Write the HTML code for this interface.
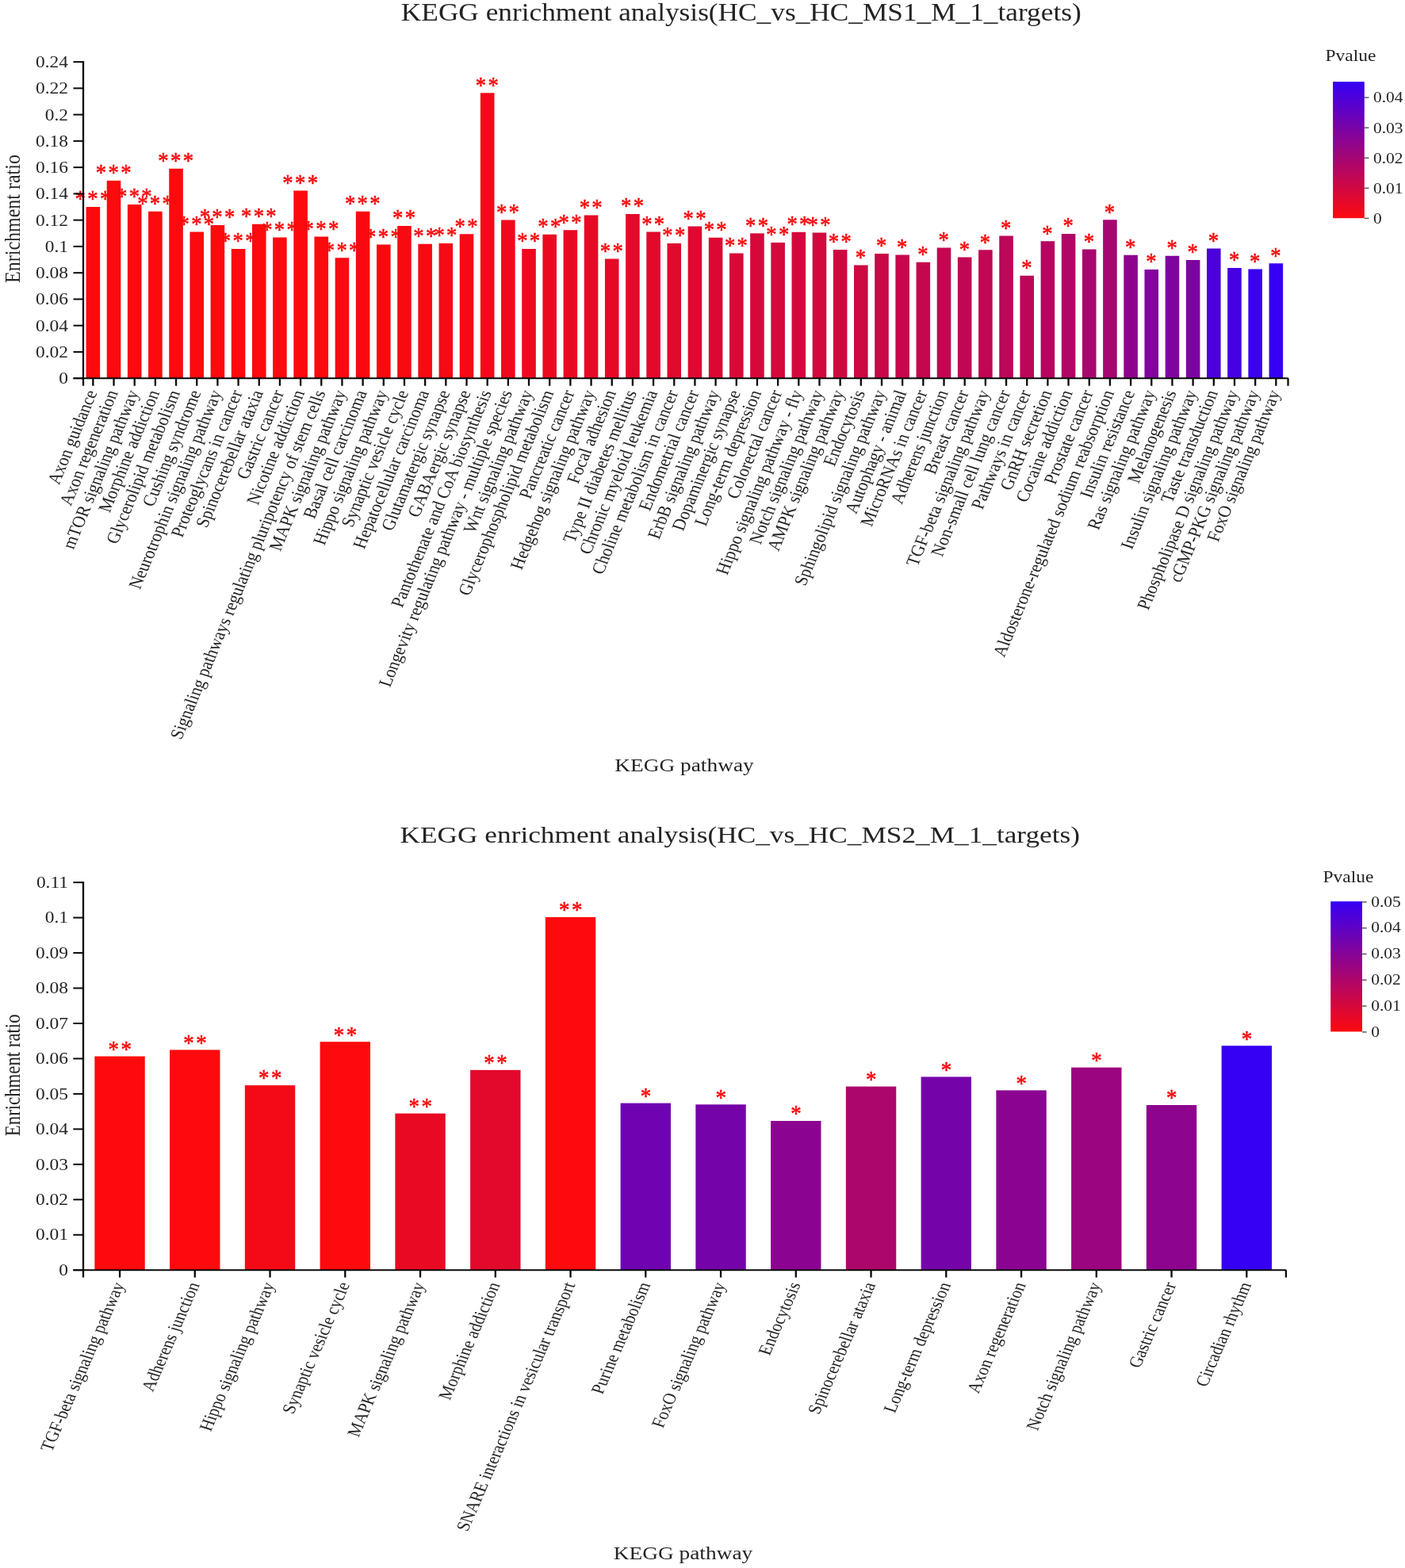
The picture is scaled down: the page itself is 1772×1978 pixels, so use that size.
<!DOCTYPE html>
<html lang="en">
<head>
<meta charset="utf-8">
<title>KEGG enrichment analysis</title>
<style>
html, body { margin: 0; padding: 0; background: #ffffff; }
body { width: 1772px; height: 1978px; overflow: hidden; }
svg { display: block; font-family: "Liberation Serif", "DejaVu Serif", serif; }
svg text { white-space: pre; }
</style>
</head>
<body>
<svg role="img" aria-label="KEGG enrichment analysis bar charts" width="1772" height="1978" viewBox="0 0 1772 1978" shape-rendering="geometricPrecision">
<rect x="0" y="0" width="1772" height="1978" fill="#ffffff"/>
<g id="chart-ms1">
<text transform="translate(934.75 25.90) scale(1.1437 1.0000)" font-size="30.86" text-anchor="middle" fill="#242424">KEGG enrichment analysis(HC_vs_HC_MS1_M_1_targets)</text>
<rect x="108.55" y="261.00" width="17.60" height="216.20" fill="#fc0a0e"/>
<rect x="134.72" y="227.85" width="17.60" height="249.35" fill="#fc0a0e"/>
<rect x="160.90" y="258.00" width="17.60" height="219.20" fill="#fc0a0e"/>
<rect x="187.07" y="266.75" width="17.60" height="210.45" fill="#fc0a0e"/>
<rect x="213.25" y="212.75" width="17.60" height="264.45" fill="#fc0a0e"/>
<rect x="239.42" y="292.50" width="17.60" height="184.70" fill="#fc0a0e"/>
<rect x="265.60" y="284.00" width="17.60" height="193.20" fill="#fc0a0e"/>
<rect x="291.77" y="314.00" width="17.60" height="163.20" fill="#fc0a0e"/>
<rect x="317.95" y="282.75" width="17.60" height="194.45" fill="#fc0a0e"/>
<rect x="344.12" y="299.50" width="17.60" height="177.70" fill="#fc0a0e"/>
<rect x="370.30" y="240.50" width="17.60" height="236.70" fill="#fc0a0e"/>
<rect x="396.47" y="298.50" width="17.60" height="178.70" fill="#fc0a0e"/>
<rect x="422.65" y="325.25" width="17.60" height="151.95" fill="#fa0a10"/>
<rect x="448.82" y="266.75" width="17.60" height="210.45" fill="#fa0a10"/>
<rect x="475.00" y="308.50" width="17.60" height="168.70" fill="#fa0a10"/>
<rect x="501.18" y="285.00" width="17.60" height="192.20" fill="#f80a13"/>
<rect x="527.35" y="307.75" width="17.60" height="169.45" fill="#f80a13"/>
<rect x="553.53" y="307.00" width="17.60" height="170.20" fill="#f60a15"/>
<rect x="579.70" y="295.25" width="17.60" height="181.95" fill="#f60a15"/>
<rect x="605.88" y="117.25" width="17.60" height="359.95" fill="#f20a1a"/>
<rect x="632.05" y="277.50" width="17.60" height="199.70" fill="#f0091c"/>
<rect x="658.23" y="314.00" width="17.60" height="163.20" fill="#ee091e"/>
<rect x="684.40" y="295.75" width="17.60" height="181.45" fill="#ec0920"/>
<rect x="710.58" y="290.25" width="17.60" height="186.95" fill="#ea0923"/>
<rect x="736.75" y="271.50" width="17.60" height="205.70" fill="#e80925"/>
<rect x="762.93" y="326.50" width="17.60" height="150.70" fill="#e60927"/>
<rect x="789.10" y="270.00" width="17.60" height="207.20" fill="#e4092a"/>
<rect x="815.28" y="292.50" width="17.60" height="184.70" fill="#e2092c"/>
<rect x="841.45" y="307.00" width="17.60" height="170.20" fill="#e0092e"/>
<rect x="867.63" y="285.50" width="17.60" height="191.70" fill="#de0830"/>
<rect x="893.80" y="299.75" width="17.60" height="177.45" fill="#dc0833"/>
<rect x="919.98" y="319.50" width="17.60" height="157.70" fill="#da0835"/>
<rect x="946.15" y="294.35" width="17.60" height="182.85" fill="#d6083a"/>
<rect x="972.33" y="306.00" width="17.60" height="171.20" fill="#d4083c"/>
<rect x="998.50" y="292.75" width="17.60" height="184.45" fill="#d4083c"/>
<rect x="1024.67" y="293.50" width="17.60" height="183.70" fill="#d2083e"/>
<rect x="1050.85" y="315.00" width="17.60" height="162.20" fill="#d00841"/>
<rect x="1077.03" y="334.50" width="17.60" height="142.70" fill="#ce0843"/>
<rect x="1103.20" y="320.00" width="17.60" height="157.20" fill="#ca0848"/>
<rect x="1129.38" y="321.50" width="17.60" height="155.70" fill="#c9074a"/>
<rect x="1155.55" y="330.75" width="17.60" height="146.45" fill="#c5074e"/>
<rect x="1181.72" y="312.50" width="17.60" height="164.70" fill="#c30751"/>
<rect x="1207.90" y="324.50" width="17.60" height="152.70" fill="#c10753"/>
<rect x="1234.08" y="315.25" width="17.60" height="161.95" fill="#bf0755"/>
<rect x="1260.25" y="297.50" width="17.60" height="179.70" fill="#bd0758"/>
<rect x="1286.42" y="347.75" width="17.60" height="129.45" fill="#bb075a"/>
<rect x="1312.60" y="304.25" width="17.60" height="172.95" fill="#b50661"/>
<rect x="1338.78" y="295.00" width="17.60" height="182.20" fill="#b10665"/>
<rect x="1364.95" y="314.50" width="17.60" height="162.70" fill="#a9066f"/>
<rect x="1391.12" y="277.25" width="17.60" height="199.95" fill="#a70671"/>
<rect x="1417.30" y="321.75" width="17.60" height="155.45" fill="#8f048c"/>
<rect x="1443.47" y="340.00" width="17.60" height="137.20" fill="#81049d"/>
<rect x="1469.65" y="322.75" width="17.60" height="154.45" fill="#7f049f"/>
<rect x="1495.83" y="328.00" width="17.60" height="149.20" fill="#7d04a1"/>
<rect x="1522.00" y="313.50" width="17.60" height="163.70" fill="#4a01dd"/>
<rect x="1548.17" y="338.00" width="17.60" height="139.20" fill="#4601e2"/>
<rect x="1574.35" y="339.50" width="17.60" height="137.70" fill="#3a00ef"/>
<rect x="1600.53" y="332.25" width="17.60" height="144.95" fill="#3600f4"/>
<text transform="translate(118.12 260.40) scale(0.9350 1.0000)" font-size="28.50" text-anchor="middle" fill="#f80b0e" stroke="#f80b0e" stroke-width="0.6" letter-spacing="2.51">***</text>
<text transform="translate(144.30 227.25) scale(0.9350 1.0000)" font-size="28.50" text-anchor="middle" fill="#f80b0e" stroke="#f80b0e" stroke-width="0.6" letter-spacing="2.51">***</text>
<text transform="translate(170.47 257.40) scale(0.9350 1.0000)" font-size="28.50" text-anchor="middle" fill="#f80b0e" stroke="#f80b0e" stroke-width="0.6" letter-spacing="2.51">***</text>
<text transform="translate(196.65 266.15) scale(0.9350 1.0000)" font-size="28.50" text-anchor="middle" fill="#f80b0e" stroke="#f80b0e" stroke-width="0.6" letter-spacing="2.51">***</text>
<text transform="translate(222.82 212.15) scale(0.9350 1.0000)" font-size="28.50" text-anchor="middle" fill="#f80b0e" stroke="#f80b0e" stroke-width="0.6" letter-spacing="2.51">***</text>
<text transform="translate(249.00 291.90) scale(0.9350 1.0000)" font-size="28.50" text-anchor="middle" fill="#f80b0e" stroke="#f80b0e" stroke-width="0.6" letter-spacing="2.51">***</text>
<text transform="translate(275.17 283.40) scale(0.9350 1.0000)" font-size="28.50" text-anchor="middle" fill="#f80b0e" stroke="#f80b0e" stroke-width="0.6" letter-spacing="2.51">***</text>
<text transform="translate(301.35 313.40) scale(0.9350 1.0000)" font-size="28.50" text-anchor="middle" fill="#f80b0e" stroke="#f80b0e" stroke-width="0.6" letter-spacing="2.51">***</text>
<text transform="translate(327.52 282.15) scale(0.9350 1.0000)" font-size="28.50" text-anchor="middle" fill="#f80b0e" stroke="#f80b0e" stroke-width="0.6" letter-spacing="2.51">***</text>
<text transform="translate(353.70 298.90) scale(0.9350 1.0000)" font-size="28.50" text-anchor="middle" fill="#f80b0e" stroke="#f80b0e" stroke-width="0.6" letter-spacing="2.51">***</text>
<text transform="translate(379.87 239.90) scale(0.9350 1.0000)" font-size="28.50" text-anchor="middle" fill="#f80b0e" stroke="#f80b0e" stroke-width="0.6" letter-spacing="2.51">***</text>
<text transform="translate(406.05 297.90) scale(0.9350 1.0000)" font-size="28.50" text-anchor="middle" fill="#f80b0e" stroke="#f80b0e" stroke-width="0.6" letter-spacing="2.51">***</text>
<text transform="translate(432.22 324.65) scale(0.9350 1.0000)" font-size="28.50" text-anchor="middle" fill="#f80b0e" stroke="#f80b0e" stroke-width="0.6" letter-spacing="2.51">***</text>
<text transform="translate(458.40 266.15) scale(0.9350 1.0000)" font-size="28.50" text-anchor="middle" fill="#f80b0e" stroke="#f80b0e" stroke-width="0.6" letter-spacing="2.51">***</text>
<text transform="translate(484.57 307.90) scale(0.9350 1.0000)" font-size="28.50" text-anchor="middle" fill="#f80b0e" stroke="#f80b0e" stroke-width="0.6" letter-spacing="2.51">***</text>
<text transform="translate(510.75 284.40) scale(0.9350 1.0000)" font-size="28.50" text-anchor="middle" fill="#f80b0e" stroke="#f80b0e" stroke-width="0.6" letter-spacing="2.51">**</text>
<text transform="translate(536.92 307.15) scale(0.9350 1.0000)" font-size="28.50" text-anchor="middle" fill="#f80b0e" stroke="#f80b0e" stroke-width="0.6" letter-spacing="2.51">**</text>
<text transform="translate(563.10 306.40) scale(0.9350 1.0000)" font-size="28.50" text-anchor="middle" fill="#f80b0e" stroke="#f80b0e" stroke-width="0.6" letter-spacing="2.51">**</text>
<text transform="translate(589.27 294.65) scale(0.9350 1.0000)" font-size="28.50" text-anchor="middle" fill="#f80b0e" stroke="#f80b0e" stroke-width="0.6" letter-spacing="2.51">**</text>
<text transform="translate(615.45 116.65) scale(0.9350 1.0000)" font-size="28.50" text-anchor="middle" fill="#f80b0e" stroke="#f80b0e" stroke-width="0.6" letter-spacing="2.51">**</text>
<text transform="translate(641.62 276.90) scale(0.9350 1.0000)" font-size="28.50" text-anchor="middle" fill="#f80b0e" stroke="#f80b0e" stroke-width="0.6" letter-spacing="2.51">**</text>
<text transform="translate(667.80 313.40) scale(0.9350 1.0000)" font-size="28.50" text-anchor="middle" fill="#f80b0e" stroke="#f80b0e" stroke-width="0.6" letter-spacing="2.51">**</text>
<text transform="translate(693.97 295.15) scale(0.9350 1.0000)" font-size="28.50" text-anchor="middle" fill="#f80b0e" stroke="#f80b0e" stroke-width="0.6" letter-spacing="2.51">**</text>
<text transform="translate(720.15 289.65) scale(0.9350 1.0000)" font-size="28.50" text-anchor="middle" fill="#f80b0e" stroke="#f80b0e" stroke-width="0.6" letter-spacing="2.51">**</text>
<text transform="translate(746.32 270.90) scale(0.9350 1.0000)" font-size="28.50" text-anchor="middle" fill="#f80b0e" stroke="#f80b0e" stroke-width="0.6" letter-spacing="2.51">**</text>
<text transform="translate(772.50 325.90) scale(0.9350 1.0000)" font-size="28.50" text-anchor="middle" fill="#f80b0e" stroke="#f80b0e" stroke-width="0.6" letter-spacing="2.51">**</text>
<text transform="translate(798.67 269.40) scale(0.9350 1.0000)" font-size="28.50" text-anchor="middle" fill="#f80b0e" stroke="#f80b0e" stroke-width="0.6" letter-spacing="2.51">**</text>
<text transform="translate(824.85 291.90) scale(0.9350 1.0000)" font-size="28.50" text-anchor="middle" fill="#f80b0e" stroke="#f80b0e" stroke-width="0.6" letter-spacing="2.51">**</text>
<text transform="translate(851.02 306.40) scale(0.9350 1.0000)" font-size="28.50" text-anchor="middle" fill="#f80b0e" stroke="#f80b0e" stroke-width="0.6" letter-spacing="2.51">**</text>
<text transform="translate(877.20 284.90) scale(0.9350 1.0000)" font-size="28.50" text-anchor="middle" fill="#f80b0e" stroke="#f80b0e" stroke-width="0.6" letter-spacing="2.51">**</text>
<text transform="translate(903.37 299.15) scale(0.9350 1.0000)" font-size="28.50" text-anchor="middle" fill="#f80b0e" stroke="#f80b0e" stroke-width="0.6" letter-spacing="2.51">**</text>
<text transform="translate(929.55 318.90) scale(0.9350 1.0000)" font-size="28.50" text-anchor="middle" fill="#f80b0e" stroke="#f80b0e" stroke-width="0.6" letter-spacing="2.51">**</text>
<text transform="translate(955.72 293.75) scale(0.9350 1.0000)" font-size="28.50" text-anchor="middle" fill="#f80b0e" stroke="#f80b0e" stroke-width="0.6" letter-spacing="2.51">**</text>
<text transform="translate(981.90 305.40) scale(0.9350 1.0000)" font-size="28.50" text-anchor="middle" fill="#f80b0e" stroke="#f80b0e" stroke-width="0.6" letter-spacing="2.51">**</text>
<text transform="translate(1008.07 292.15) scale(0.9350 1.0000)" font-size="28.50" text-anchor="middle" fill="#f80b0e" stroke="#f80b0e" stroke-width="0.6" letter-spacing="2.51">**</text>
<text transform="translate(1034.25 292.90) scale(0.9350 1.0000)" font-size="28.50" text-anchor="middle" fill="#f80b0e" stroke="#f80b0e" stroke-width="0.6" letter-spacing="2.51">**</text>
<text transform="translate(1060.42 314.40) scale(0.9350 1.0000)" font-size="28.50" text-anchor="middle" fill="#f80b0e" stroke="#f80b0e" stroke-width="0.6" letter-spacing="2.51">**</text>
<text transform="translate(1086.60 333.90) scale(0.9350 1.0000)" font-size="28.50" text-anchor="middle" fill="#f80b0e" stroke="#f80b0e" stroke-width="0.6" letter-spacing="2.51">*</text>
<text transform="translate(1112.77 319.40) scale(0.9350 1.0000)" font-size="28.50" text-anchor="middle" fill="#f80b0e" stroke="#f80b0e" stroke-width="0.6" letter-spacing="2.51">*</text>
<text transform="translate(1138.95 320.90) scale(0.9350 1.0000)" font-size="28.50" text-anchor="middle" fill="#f80b0e" stroke="#f80b0e" stroke-width="0.6" letter-spacing="2.51">*</text>
<text transform="translate(1165.12 330.15) scale(0.9350 1.0000)" font-size="28.50" text-anchor="middle" fill="#f80b0e" stroke="#f80b0e" stroke-width="0.6" letter-spacing="2.51">*</text>
<text transform="translate(1191.30 311.90) scale(0.9350 1.0000)" font-size="28.50" text-anchor="middle" fill="#f80b0e" stroke="#f80b0e" stroke-width="0.6" letter-spacing="2.51">*</text>
<text transform="translate(1217.47 323.90) scale(0.9350 1.0000)" font-size="28.50" text-anchor="middle" fill="#f80b0e" stroke="#f80b0e" stroke-width="0.6" letter-spacing="2.51">*</text>
<text transform="translate(1243.65 314.65) scale(0.9350 1.0000)" font-size="28.50" text-anchor="middle" fill="#f80b0e" stroke="#f80b0e" stroke-width="0.6" letter-spacing="2.51">*</text>
<text transform="translate(1269.82 296.90) scale(0.9350 1.0000)" font-size="28.50" text-anchor="middle" fill="#f80b0e" stroke="#f80b0e" stroke-width="0.6" letter-spacing="2.51">*</text>
<text transform="translate(1296.00 347.15) scale(0.9350 1.0000)" font-size="28.50" text-anchor="middle" fill="#f80b0e" stroke="#f80b0e" stroke-width="0.6" letter-spacing="2.51">*</text>
<text transform="translate(1322.17 303.65) scale(0.9350 1.0000)" font-size="28.50" text-anchor="middle" fill="#f80b0e" stroke="#f80b0e" stroke-width="0.6" letter-spacing="2.51">*</text>
<text transform="translate(1348.35 294.40) scale(0.9350 1.0000)" font-size="28.50" text-anchor="middle" fill="#f80b0e" stroke="#f80b0e" stroke-width="0.6" letter-spacing="2.51">*</text>
<text transform="translate(1374.52 313.90) scale(0.9350 1.0000)" font-size="28.50" text-anchor="middle" fill="#f80b0e" stroke="#f80b0e" stroke-width="0.6" letter-spacing="2.51">*</text>
<text transform="translate(1400.70 276.65) scale(0.9350 1.0000)" font-size="28.50" text-anchor="middle" fill="#f80b0e" stroke="#f80b0e" stroke-width="0.6" letter-spacing="2.51">*</text>
<text transform="translate(1426.87 321.15) scale(0.9350 1.0000)" font-size="28.50" text-anchor="middle" fill="#f80b0e" stroke="#f80b0e" stroke-width="0.6" letter-spacing="2.51">*</text>
<text transform="translate(1453.05 339.40) scale(0.9350 1.0000)" font-size="28.50" text-anchor="middle" fill="#f80b0e" stroke="#f80b0e" stroke-width="0.6" letter-spacing="2.51">*</text>
<text transform="translate(1479.22 322.15) scale(0.9350 1.0000)" font-size="28.50" text-anchor="middle" fill="#f80b0e" stroke="#f80b0e" stroke-width="0.6" letter-spacing="2.51">*</text>
<text transform="translate(1505.40 327.40) scale(0.9350 1.0000)" font-size="28.50" text-anchor="middle" fill="#f80b0e" stroke="#f80b0e" stroke-width="0.6" letter-spacing="2.51">*</text>
<text transform="translate(1531.57 312.90) scale(0.9350 1.0000)" font-size="28.50" text-anchor="middle" fill="#f80b0e" stroke="#f80b0e" stroke-width="0.6" letter-spacing="2.51">*</text>
<text transform="translate(1557.75 337.40) scale(0.9350 1.0000)" font-size="28.50" text-anchor="middle" fill="#f80b0e" stroke="#f80b0e" stroke-width="0.6" letter-spacing="2.51">*</text>
<text transform="translate(1583.92 338.90) scale(0.9350 1.0000)" font-size="28.50" text-anchor="middle" fill="#f80b0e" stroke="#f80b0e" stroke-width="0.6" letter-spacing="2.51">*</text>
<text transform="translate(1610.10 331.65) scale(0.9350 1.0000)" font-size="28.50" text-anchor="middle" fill="#f80b0e" stroke="#f80b0e" stroke-width="0.6" letter-spacing="2.51">*</text>
<rect x="103.85" y="77.10" width="2.30" height="409.60" fill="#0a0a0a"/>
<rect x="92.50" y="476.20" width="1532.30" height="2.00" fill="#0a0a0a"/>
<rect x="1623.35" y="477.20" width="2.30" height="9.50" fill="#0a0a0a"/>
<rect x="92.50" y="77.10" width="12.50" height="2.00" fill="#0a0a0a"/>
<text transform="translate(86.00 85.00) scale(1.1400 1.0000)" font-size="20.57" text-anchor="end" fill="#242424">0.24</text>
<rect x="92.50" y="110.36" width="12.50" height="2.00" fill="#0a0a0a"/>
<text transform="translate(86.00 118.26) scale(1.1400 1.0000)" font-size="20.57" text-anchor="end" fill="#242424">0.22</text>
<rect x="92.50" y="143.62" width="12.50" height="2.00" fill="#0a0a0a"/>
<text transform="translate(86.00 151.52) scale(1.1400 1.0000)" font-size="20.57" text-anchor="end" fill="#242424">0.2</text>
<rect x="92.50" y="176.88" width="12.50" height="2.00" fill="#0a0a0a"/>
<text transform="translate(86.00 184.78) scale(1.1400 1.0000)" font-size="20.57" text-anchor="end" fill="#242424">0.18</text>
<rect x="92.50" y="210.13" width="12.50" height="2.00" fill="#0a0a0a"/>
<text transform="translate(86.00 218.03) scale(1.1400 1.0000)" font-size="20.57" text-anchor="end" fill="#242424">0.16</text>
<rect x="92.50" y="243.39" width="12.50" height="2.00" fill="#0a0a0a"/>
<text transform="translate(86.00 251.29) scale(1.1400 1.0000)" font-size="20.57" text-anchor="end" fill="#242424">0.14</text>
<rect x="92.50" y="276.65" width="12.50" height="2.00" fill="#0a0a0a"/>
<text transform="translate(86.00 284.55) scale(1.1400 1.0000)" font-size="20.57" text-anchor="end" fill="#242424">0.12</text>
<rect x="92.50" y="309.91" width="12.50" height="2.00" fill="#0a0a0a"/>
<text transform="translate(86.00 317.81) scale(1.1400 1.0000)" font-size="20.57" text-anchor="end" fill="#242424">0.1</text>
<rect x="92.50" y="343.17" width="12.50" height="2.00" fill="#0a0a0a"/>
<text transform="translate(86.00 351.07) scale(1.1400 1.0000)" font-size="20.57" text-anchor="end" fill="#242424">0.08</text>
<rect x="92.50" y="376.42" width="12.50" height="2.00" fill="#0a0a0a"/>
<text transform="translate(86.00 384.32) scale(1.1400 1.0000)" font-size="20.57" text-anchor="end" fill="#242424">0.06</text>
<rect x="92.50" y="409.68" width="12.50" height="2.00" fill="#0a0a0a"/>
<text transform="translate(86.00 417.58) scale(1.1400 1.0000)" font-size="20.57" text-anchor="end" fill="#242424">0.04</text>
<rect x="92.50" y="442.94" width="12.50" height="2.00" fill="#0a0a0a"/>
<text transform="translate(86.00 450.84) scale(1.1400 1.0000)" font-size="20.57" text-anchor="end" fill="#242424">0.02</text>
<rect x="92.50" y="476.20" width="12.50" height="2.00" fill="#0a0a0a"/>
<text transform="translate(86.00 484.10) scale(1.1400 1.0000)" font-size="20.57" text-anchor="end" fill="#242424">0</text>
<rect x="116.20" y="477.20" width="2.30" height="9.50" fill="#0a0a0a"/>
<text transform="translate(122.85 495.20) scale(1.1400 1.0000) rotate(-70.00)" font-size="20.50" text-anchor="end" fill="#242424">Axon guidance</text>
<rect x="142.38" y="477.20" width="2.30" height="9.50" fill="#0a0a0a"/>
<text transform="translate(149.03 495.20) scale(1.1400 1.0000) rotate(-70.00)" font-size="20.50" text-anchor="end" fill="#242424">Axon regeneration</text>
<rect x="168.55" y="477.20" width="2.30" height="9.50" fill="#0a0a0a"/>
<text transform="translate(175.20 495.20) scale(1.1400 1.0000) rotate(-70.00)" font-size="20.50" text-anchor="end" fill="#242424">mTOR signaling pathway</text>
<rect x="194.72" y="477.20" width="2.30" height="9.50" fill="#0a0a0a"/>
<text transform="translate(201.38 495.20) scale(1.1400 1.0000) rotate(-70.00)" font-size="20.50" text-anchor="end" fill="#242424">Morphine addiction</text>
<rect x="220.90" y="477.20" width="2.30" height="9.50" fill="#0a0a0a"/>
<text transform="translate(227.55 495.20) scale(1.1400 1.0000) rotate(-70.00)" font-size="20.50" text-anchor="end" fill="#242424">Glycerolipid metabolism</text>
<rect x="247.07" y="477.20" width="2.30" height="9.50" fill="#0a0a0a"/>
<text transform="translate(253.72 495.20) scale(1.1400 1.0000) rotate(-70.00)" font-size="20.50" text-anchor="end" fill="#242424">Cushing syndrome</text>
<rect x="273.25" y="477.20" width="2.30" height="9.50" fill="#0a0a0a"/>
<text transform="translate(279.90 495.20) scale(1.1400 1.0000) rotate(-70.00)" font-size="20.50" text-anchor="end" fill="#242424">Neurotrophin signaling pathway</text>
<rect x="299.43" y="477.20" width="2.30" height="9.50" fill="#0a0a0a"/>
<text transform="translate(306.07 495.20) scale(1.1400 1.0000) rotate(-70.00)" font-size="20.50" text-anchor="end" fill="#242424">Proteoglycans in cancer</text>
<rect x="325.60" y="477.20" width="2.30" height="9.50" fill="#0a0a0a"/>
<text transform="translate(332.25 495.20) scale(1.1400 1.0000) rotate(-70.00)" font-size="20.50" text-anchor="end" fill="#242424">Spinocerebellar ataxia</text>
<rect x="351.78" y="477.20" width="2.30" height="9.50" fill="#0a0a0a"/>
<text transform="translate(358.43 495.20) scale(1.1400 1.0000) rotate(-70.00)" font-size="20.50" text-anchor="end" fill="#242424">Gastric cancer</text>
<rect x="377.95" y="477.20" width="2.30" height="9.50" fill="#0a0a0a"/>
<text transform="translate(384.60 495.20) scale(1.1400 1.0000) rotate(-70.00)" font-size="20.50" text-anchor="end" fill="#242424">Nicotine addiction</text>
<rect x="404.12" y="477.20" width="2.30" height="9.50" fill="#0a0a0a"/>
<text transform="translate(410.77 495.20) scale(1.1400 1.0000) rotate(-70.00)" font-size="20.50" text-anchor="end" fill="#242424">Signaling pathways regulating pluripotency of stem cells</text>
<rect x="430.30" y="477.20" width="2.30" height="9.50" fill="#0a0a0a"/>
<text transform="translate(436.95 495.20) scale(1.1400 1.0000) rotate(-70.00)" font-size="20.50" text-anchor="end" fill="#242424">MAPK signaling pathway</text>
<rect x="456.48" y="477.20" width="2.30" height="9.50" fill="#0a0a0a"/>
<text transform="translate(463.12 495.20) scale(1.1400 1.0000) rotate(-70.00)" font-size="20.50" text-anchor="end" fill="#242424">Basal cell carcinoma</text>
<rect x="482.65" y="477.20" width="2.30" height="9.50" fill="#0a0a0a"/>
<text transform="translate(489.30 495.20) scale(1.1400 1.0000) rotate(-70.00)" font-size="20.50" text-anchor="end" fill="#242424">Hippo signaling pathway</text>
<rect x="508.83" y="477.20" width="2.30" height="9.50" fill="#0a0a0a"/>
<text transform="translate(515.48 495.20) scale(1.1400 1.0000) rotate(-70.00)" font-size="20.50" text-anchor="end" fill="#242424">Synaptic vesicle cycle</text>
<rect x="535.00" y="477.20" width="2.30" height="9.50" fill="#0a0a0a"/>
<text transform="translate(541.65 495.20) scale(1.1400 1.0000) rotate(-70.00)" font-size="20.50" text-anchor="end" fill="#242424">Hepatocellular carcinoma</text>
<rect x="561.18" y="477.20" width="2.30" height="9.50" fill="#0a0a0a"/>
<text transform="translate(567.83 495.20) scale(1.1400 1.0000) rotate(-70.00)" font-size="20.50" text-anchor="end" fill="#242424">Glutamatergic synapse</text>
<rect x="587.35" y="477.20" width="2.30" height="9.50" fill="#0a0a0a"/>
<text transform="translate(594.00 495.20) scale(1.1400 1.0000) rotate(-70.00)" font-size="20.50" text-anchor="end" fill="#242424">GABAergic synapse</text>
<rect x="613.52" y="477.20" width="2.30" height="9.50" fill="#0a0a0a"/>
<text transform="translate(620.17 495.20) scale(1.1400 1.0000) rotate(-70.00)" font-size="20.50" text-anchor="end" fill="#242424">Pantothenate and CoA biosynthesis</text>
<rect x="639.70" y="477.20" width="2.30" height="9.50" fill="#0a0a0a"/>
<text transform="translate(646.35 495.20) scale(1.1400 1.0000) rotate(-70.00)" font-size="20.50" text-anchor="end" fill="#242424">Longevity regulating pathway - multiple species</text>
<rect x="665.88" y="477.20" width="2.30" height="9.50" fill="#0a0a0a"/>
<text transform="translate(672.53 495.20) scale(1.1400 1.0000) rotate(-70.00)" font-size="20.50" text-anchor="end" fill="#242424">Wnt signaling pathway</text>
<rect x="692.05" y="477.20" width="2.30" height="9.50" fill="#0a0a0a"/>
<text transform="translate(698.70 495.20) scale(1.1400 1.0000) rotate(-70.00)" font-size="20.50" text-anchor="end" fill="#242424">Glycerophospholipid metabolism</text>
<rect x="718.23" y="477.20" width="2.30" height="9.50" fill="#0a0a0a"/>
<text transform="translate(724.88 495.20) scale(1.1400 1.0000) rotate(-70.00)" font-size="20.50" text-anchor="end" fill="#242424">Pancreatic cancer</text>
<rect x="744.40" y="477.20" width="2.30" height="9.50" fill="#0a0a0a"/>
<text transform="translate(751.05 495.20) scale(1.1400 1.0000) rotate(-70.00)" font-size="20.50" text-anchor="end" fill="#242424">Hedgehog signaling pathway</text>
<rect x="770.58" y="477.20" width="2.30" height="9.50" fill="#0a0a0a"/>
<text transform="translate(777.23 495.20) scale(1.1400 1.0000) rotate(-70.00)" font-size="20.50" text-anchor="end" fill="#242424">Focal adhesion</text>
<rect x="796.75" y="477.20" width="2.30" height="9.50" fill="#0a0a0a"/>
<text transform="translate(803.40 495.20) scale(1.1400 1.0000) rotate(-70.00)" font-size="20.50" text-anchor="end" fill="#242424">Type II diabetes mellitus</text>
<rect x="822.93" y="477.20" width="2.30" height="9.50" fill="#0a0a0a"/>
<text transform="translate(829.58 495.20) scale(1.1400 1.0000) rotate(-70.00)" font-size="20.50" text-anchor="end" fill="#242424">Chronic myeloid leukemia</text>
<rect x="849.10" y="477.20" width="2.30" height="9.50" fill="#0a0a0a"/>
<text transform="translate(855.75 495.20) scale(1.1400 1.0000) rotate(-70.00)" font-size="20.50" text-anchor="end" fill="#242424">Choline metabolism in cancer</text>
<rect x="875.28" y="477.20" width="2.30" height="9.50" fill="#0a0a0a"/>
<text transform="translate(881.93 495.20) scale(1.1400 1.0000) rotate(-70.00)" font-size="20.50" text-anchor="end" fill="#242424">Endometrial cancer</text>
<rect x="901.45" y="477.20" width="2.30" height="9.50" fill="#0a0a0a"/>
<text transform="translate(908.10 495.20) scale(1.1400 1.0000) rotate(-70.00)" font-size="20.50" text-anchor="end" fill="#242424">ErbB signaling pathway</text>
<rect x="927.63" y="477.20" width="2.30" height="9.50" fill="#0a0a0a"/>
<text transform="translate(934.28 495.20) scale(1.1400 1.0000) rotate(-70.00)" font-size="20.50" text-anchor="end" fill="#242424">Dopaminergic synapse</text>
<rect x="953.80" y="477.20" width="2.30" height="9.50" fill="#0a0a0a"/>
<text transform="translate(960.45 495.20) scale(1.1400 1.0000) rotate(-70.00)" font-size="20.50" text-anchor="end" fill="#242424">Long-term depression</text>
<rect x="979.98" y="477.20" width="2.30" height="9.50" fill="#0a0a0a"/>
<text transform="translate(986.62 495.20) scale(1.1400 1.0000) rotate(-70.00)" font-size="20.50" text-anchor="end" fill="#242424">Colorectal cancer</text>
<rect x="1006.15" y="477.20" width="2.30" height="9.50" fill="#0a0a0a"/>
<text transform="translate(1012.80 495.20) scale(1.1400 1.0000) rotate(-70.00)" font-size="20.50" text-anchor="end" fill="#242424">Hippo signaling pathway - fly</text>
<rect x="1032.32" y="477.20" width="2.30" height="9.50" fill="#0a0a0a"/>
<text transform="translate(1038.97 495.20) scale(1.1400 1.0000) rotate(-70.00)" font-size="20.50" text-anchor="end" fill="#242424">Notch signaling pathway</text>
<rect x="1058.50" y="477.20" width="2.30" height="9.50" fill="#0a0a0a"/>
<text transform="translate(1065.15 495.20) scale(1.1400 1.0000) rotate(-70.00)" font-size="20.50" text-anchor="end" fill="#242424">AMPK signaling pathway</text>
<rect x="1084.67" y="477.20" width="2.30" height="9.50" fill="#0a0a0a"/>
<text transform="translate(1091.33 495.20) scale(1.1400 1.0000) rotate(-70.00)" font-size="20.50" text-anchor="end" fill="#242424">Endocytosis</text>
<rect x="1110.85" y="477.20" width="2.30" height="9.50" fill="#0a0a0a"/>
<text transform="translate(1117.50 495.20) scale(1.1400 1.0000) rotate(-70.00)" font-size="20.50" text-anchor="end" fill="#242424">Sphingolipid signaling pathway</text>
<rect x="1137.02" y="477.20" width="2.30" height="9.50" fill="#0a0a0a"/>
<text transform="translate(1143.67 495.20) scale(1.1400 1.0000) rotate(-70.00)" font-size="20.50" text-anchor="end" fill="#242424">Autophagy - animal</text>
<rect x="1163.20" y="477.20" width="2.30" height="9.50" fill="#0a0a0a"/>
<text transform="translate(1169.85 495.20) scale(1.1400 1.0000) rotate(-70.00)" font-size="20.50" text-anchor="end" fill="#242424">MicroRNAs in cancer</text>
<rect x="1189.37" y="477.20" width="2.30" height="9.50" fill="#0a0a0a"/>
<text transform="translate(1196.02 495.20) scale(1.1400 1.0000) rotate(-70.00)" font-size="20.50" text-anchor="end" fill="#242424">Adherens junction</text>
<rect x="1215.55" y="477.20" width="2.30" height="9.50" fill="#0a0a0a"/>
<text transform="translate(1222.20 495.20) scale(1.1400 1.0000) rotate(-70.00)" font-size="20.50" text-anchor="end" fill="#242424">Breast cancer</text>
<rect x="1241.72" y="477.20" width="2.30" height="9.50" fill="#0a0a0a"/>
<text transform="translate(1248.38 495.20) scale(1.1400 1.0000) rotate(-70.00)" font-size="20.50" text-anchor="end" fill="#242424">TGF-beta signaling pathway</text>
<rect x="1267.90" y="477.20" width="2.30" height="9.50" fill="#0a0a0a"/>
<text transform="translate(1274.55 495.20) scale(1.1400 1.0000) rotate(-70.00)" font-size="20.50" text-anchor="end" fill="#242424">Non-small cell lung cancer</text>
<rect x="1294.07" y="477.20" width="2.30" height="9.50" fill="#0a0a0a"/>
<text transform="translate(1300.72 495.20) scale(1.1400 1.0000) rotate(-70.00)" font-size="20.50" text-anchor="end" fill="#242424">Pathways in cancer</text>
<rect x="1320.25" y="477.20" width="2.30" height="9.50" fill="#0a0a0a"/>
<text transform="translate(1326.90 495.20) scale(1.1400 1.0000) rotate(-70.00)" font-size="20.50" text-anchor="end" fill="#242424">GnRH secretion</text>
<rect x="1346.42" y="477.20" width="2.30" height="9.50" fill="#0a0a0a"/>
<text transform="translate(1353.08 495.20) scale(1.1400 1.0000) rotate(-70.00)" font-size="20.50" text-anchor="end" fill="#242424">Cocaine addiction</text>
<rect x="1372.60" y="477.20" width="2.30" height="9.50" fill="#0a0a0a"/>
<text transform="translate(1379.25 495.20) scale(1.1400 1.0000) rotate(-70.00)" font-size="20.50" text-anchor="end" fill="#242424">Prostate cancer</text>
<rect x="1398.77" y="477.20" width="2.30" height="9.50" fill="#0a0a0a"/>
<text transform="translate(1405.42 495.20) scale(1.1400 1.0000) rotate(-70.00)" font-size="20.50" text-anchor="end" fill="#242424">Aldosterone-regulated sodium reabsorption</text>
<rect x="1424.95" y="477.20" width="2.30" height="9.50" fill="#0a0a0a"/>
<text transform="translate(1431.60 495.20) scale(1.1400 1.0000) rotate(-70.00)" font-size="20.50" text-anchor="end" fill="#242424">Insulin resistance</text>
<rect x="1451.12" y="477.20" width="2.30" height="9.50" fill="#0a0a0a"/>
<text transform="translate(1457.77 495.20) scale(1.1400 1.0000) rotate(-70.00)" font-size="20.50" text-anchor="end" fill="#242424">Ras signaling pathway</text>
<rect x="1477.30" y="477.20" width="2.30" height="9.50" fill="#0a0a0a"/>
<text transform="translate(1483.95 495.20) scale(1.1400 1.0000) rotate(-70.00)" font-size="20.50" text-anchor="end" fill="#242424">Melanogenesis</text>
<rect x="1503.47" y="477.20" width="2.30" height="9.50" fill="#0a0a0a"/>
<text transform="translate(1510.12 495.20) scale(1.1400 1.0000) rotate(-70.00)" font-size="20.50" text-anchor="end" fill="#242424">Insulin signaling pathway</text>
<rect x="1529.65" y="477.20" width="2.30" height="9.50" fill="#0a0a0a"/>
<text transform="translate(1536.30 495.20) scale(1.1400 1.0000) rotate(-70.00)" font-size="20.50" text-anchor="end" fill="#242424">Taste transduction</text>
<rect x="1555.82" y="477.20" width="2.30" height="9.50" fill="#0a0a0a"/>
<text transform="translate(1562.47 495.20) scale(1.1400 1.0000) rotate(-70.00)" font-size="20.50" text-anchor="end" fill="#242424">Phospholipase D signaling pathway</text>
<rect x="1582.00" y="477.20" width="2.30" height="9.50" fill="#0a0a0a"/>
<text transform="translate(1588.65 495.20) scale(1.1400 1.0000) rotate(-70.00)" font-size="20.50" text-anchor="end" fill="#242424">cGMP-PKG signaling pathway</text>
<rect x="1608.17" y="477.20" width="2.30" height="9.50" fill="#0a0a0a"/>
<text transform="translate(1614.83 495.20) scale(1.1400 1.0000) rotate(-70.00)" font-size="20.50" text-anchor="end" fill="#242424">FoxO signaling pathway</text>
<text transform="translate(24.50 276.00) scale(1.1400 1.0000) rotate(-90.00)" font-size="24.00" text-anchor="middle" fill="#242424">Enrichment ratio</text>
<text transform="translate(863.00 972.50) scale(1.1400 1.0000)" font-size="24.00" text-anchor="middle" fill="#242424">KEGG pathway</text>
<defs><linearGradient id="g1" x1="0" y1="1" x2="0" y2="0"><stop offset="0" stop-color="#fc0a0e"/><stop offset="1" stop-color="#3600f4"/></linearGradient></defs>
<rect x="1681.10" y="103.10" width="39.70" height="172.10" fill="url(#g1)"/>
<rect x="1720.80" y="274.75" width="5.70" height="1.40" fill="#555555"/>
<text transform="translate(1732.00 281.85) scale(1.1400 1.0000)" font-size="18.86" text-anchor="start" fill="#242424">0</text>
<rect x="1720.80" y="236.65" width="5.70" height="1.40" fill="#555555"/>
<text transform="translate(1732.00 243.75) scale(1.1400 1.0000)" font-size="18.86" text-anchor="start" fill="#242424">0.01</text>
<rect x="1720.80" y="198.55" width="5.70" height="1.40" fill="#555555"/>
<text transform="translate(1732.00 205.65) scale(1.1400 1.0000)" font-size="18.86" text-anchor="start" fill="#242424">0.02</text>
<rect x="1720.80" y="160.45" width="5.70" height="1.40" fill="#555555"/>
<text transform="translate(1732.00 167.55) scale(1.1400 1.0000)" font-size="18.86" text-anchor="start" fill="#242424">0.03</text>
<rect x="1720.80" y="122.35" width="5.70" height="1.40" fill="#555555"/>
<text transform="translate(1732.00 129.45) scale(1.1400 1.0000)" font-size="18.86" text-anchor="start" fill="#242424">0.04</text>
<text transform="translate(1671.50 77.20) scale(1.1400 1.0000)" font-size="20.57" text-anchor="start" fill="#242424">Pvalue</text>
</g>
<g id="chart-ms2">
<text transform="translate(933.30 1063.00) scale(1.1680 1.0000)" font-size="30.20" text-anchor="middle" fill="#242424">KEGG enrichment analysis(HC_vs_HC_MS2_M_1_targets)</text>
<rect x="119.35" y="1332.50" width="63.40" height="269.70" fill="#fc0a0e"/>
<rect x="214.10" y="1324.40" width="63.40" height="277.80" fill="#fc0a0e"/>
<rect x="308.85" y="1369.10" width="63.40" height="233.10" fill="#f40a17"/>
<rect x="403.60" y="1314.20" width="63.40" height="288.00" fill="#fc0a0e"/>
<rect x="498.35" y="1404.60" width="63.40" height="197.60" fill="#ea0923"/>
<rect x="593.10" y="1349.80" width="63.40" height="252.40" fill="#e2092c"/>
<rect x="687.85" y="1156.95" width="63.40" height="445.25" fill="#fc0a0e"/>
<rect x="782.60" y="1391.60" width="63.40" height="210.60" fill="#6f03b1"/>
<rect x="877.35" y="1393.30" width="63.40" height="208.90" fill="#7503aa"/>
<rect x="972.10" y="1414.00" width="63.40" height="188.20" fill="#8b0491"/>
<rect x="1066.85" y="1370.60" width="63.40" height="231.60" fill="#ad066a"/>
<rect x="1161.60" y="1358.40" width="63.40" height="243.80" fill="#7503aa"/>
<rect x="1256.35" y="1375.40" width="63.40" height="226.80" fill="#8b0491"/>
<rect x="1351.10" y="1346.60" width="63.40" height="255.60" fill="#9b057f"/>
<rect x="1445.85" y="1394.00" width="63.40" height="208.20" fill="#8d048f"/>
<rect x="1540.60" y="1319.20" width="63.40" height="283.00" fill="#3600f4"/>
<text transform="translate(152.53 1332.80) scale(0.9430 1.0000)" font-size="28.50" text-anchor="middle" fill="#f80b0e" stroke="#f80b0e" stroke-width="0.6" letter-spacing="2.71">**</text>
<text transform="translate(247.28 1324.70) scale(0.9430 1.0000)" font-size="28.50" text-anchor="middle" fill="#f80b0e" stroke="#f80b0e" stroke-width="0.6" letter-spacing="2.71">**</text>
<text transform="translate(342.03 1369.40) scale(0.9430 1.0000)" font-size="28.50" text-anchor="middle" fill="#f80b0e" stroke="#f80b0e" stroke-width="0.6" letter-spacing="2.71">**</text>
<text transform="translate(436.78 1314.50) scale(0.9430 1.0000)" font-size="28.50" text-anchor="middle" fill="#f80b0e" stroke="#f80b0e" stroke-width="0.6" letter-spacing="2.71">**</text>
<text transform="translate(531.53 1404.90) scale(0.9430 1.0000)" font-size="28.50" text-anchor="middle" fill="#f80b0e" stroke="#f80b0e" stroke-width="0.6" letter-spacing="2.71">**</text>
<text transform="translate(626.28 1350.10) scale(0.9430 1.0000)" font-size="28.50" text-anchor="middle" fill="#f80b0e" stroke="#f80b0e" stroke-width="0.6" letter-spacing="2.71">**</text>
<text transform="translate(721.03 1157.25) scale(0.9430 1.0000)" font-size="28.50" text-anchor="middle" fill="#f80b0e" stroke="#f80b0e" stroke-width="0.6" letter-spacing="2.71">**</text>
<text transform="translate(815.78 1391.90) scale(0.9430 1.0000)" font-size="28.50" text-anchor="middle" fill="#f80b0e" stroke="#f80b0e" stroke-width="0.6" letter-spacing="2.71">*</text>
<text transform="translate(910.53 1393.60) scale(0.9430 1.0000)" font-size="28.50" text-anchor="middle" fill="#f80b0e" stroke="#f80b0e" stroke-width="0.6" letter-spacing="2.71">*</text>
<text transform="translate(1005.28 1414.30) scale(0.9430 1.0000)" font-size="28.50" text-anchor="middle" fill="#f80b0e" stroke="#f80b0e" stroke-width="0.6" letter-spacing="2.71">*</text>
<text transform="translate(1100.03 1370.90) scale(0.9430 1.0000)" font-size="28.50" text-anchor="middle" fill="#f80b0e" stroke="#f80b0e" stroke-width="0.6" letter-spacing="2.71">*</text>
<text transform="translate(1194.78 1358.70) scale(0.9430 1.0000)" font-size="28.50" text-anchor="middle" fill="#f80b0e" stroke="#f80b0e" stroke-width="0.6" letter-spacing="2.71">*</text>
<text transform="translate(1289.53 1375.70) scale(0.9430 1.0000)" font-size="28.50" text-anchor="middle" fill="#f80b0e" stroke="#f80b0e" stroke-width="0.6" letter-spacing="2.71">*</text>
<text transform="translate(1384.28 1346.90) scale(0.9430 1.0000)" font-size="28.50" text-anchor="middle" fill="#f80b0e" stroke="#f80b0e" stroke-width="0.6" letter-spacing="2.71">*</text>
<text transform="translate(1479.03 1394.30) scale(0.9430 1.0000)" font-size="28.50" text-anchor="middle" fill="#f80b0e" stroke="#f80b0e" stroke-width="0.6" letter-spacing="2.71">*</text>
<text transform="translate(1573.78 1319.50) scale(0.9430 1.0000)" font-size="28.50" text-anchor="middle" fill="#f80b0e" stroke="#f80b0e" stroke-width="0.6" letter-spacing="2.71">*</text>
<rect x="103.85" y="1112.15" width="2.30" height="499.35" fill="#0a0a0a"/>
<rect x="92.30" y="1601.20" width="1529.90" height="2.00" fill="#0a0a0a"/>
<rect x="1620.75" y="1602.20" width="2.30" height="9.30" fill="#0a0a0a"/>
<rect x="92.30" y="1112.15" width="12.70" height="2.00" fill="#0a0a0a"/>
<text transform="translate(86.00 1119.85) scale(1.1720 1.0000)" font-size="20.00" text-anchor="end" fill="#242424">0.11</text>
<rect x="92.30" y="1156.61" width="12.70" height="2.00" fill="#0a0a0a"/>
<text transform="translate(86.00 1164.31) scale(1.1720 1.0000)" font-size="20.00" text-anchor="end" fill="#242424">0.1</text>
<rect x="92.30" y="1201.07" width="12.70" height="2.00" fill="#0a0a0a"/>
<text transform="translate(86.00 1208.77) scale(1.1720 1.0000)" font-size="20.00" text-anchor="end" fill="#242424">0.09</text>
<rect x="92.30" y="1245.53" width="12.70" height="2.00" fill="#0a0a0a"/>
<text transform="translate(86.00 1253.23) scale(1.1720 1.0000)" font-size="20.00" text-anchor="end" fill="#242424">0.08</text>
<rect x="92.30" y="1289.99" width="12.70" height="2.00" fill="#0a0a0a"/>
<text transform="translate(86.00 1297.69) scale(1.1720 1.0000)" font-size="20.00" text-anchor="end" fill="#242424">0.07</text>
<rect x="92.30" y="1334.45" width="12.70" height="2.00" fill="#0a0a0a"/>
<text transform="translate(86.00 1342.15) scale(1.1720 1.0000)" font-size="20.00" text-anchor="end" fill="#242424">0.06</text>
<rect x="92.30" y="1378.90" width="12.70" height="2.00" fill="#0a0a0a"/>
<text transform="translate(86.00 1386.60) scale(1.1720 1.0000)" font-size="20.00" text-anchor="end" fill="#242424">0.05</text>
<rect x="92.30" y="1423.36" width="12.70" height="2.00" fill="#0a0a0a"/>
<text transform="translate(86.00 1431.06) scale(1.1720 1.0000)" font-size="20.00" text-anchor="end" fill="#242424">0.04</text>
<rect x="92.30" y="1467.82" width="12.70" height="2.00" fill="#0a0a0a"/>
<text transform="translate(86.00 1475.52) scale(1.1720 1.0000)" font-size="20.00" text-anchor="end" fill="#242424">0.03</text>
<rect x="92.30" y="1512.28" width="12.70" height="2.00" fill="#0a0a0a"/>
<text transform="translate(86.00 1519.98) scale(1.1720 1.0000)" font-size="20.00" text-anchor="end" fill="#242424">0.02</text>
<rect x="92.30" y="1556.74" width="12.70" height="2.00" fill="#0a0a0a"/>
<text transform="translate(86.00 1564.44) scale(1.1720 1.0000)" font-size="20.00" text-anchor="end" fill="#242424">0.01</text>
<rect x="92.30" y="1601.20" width="12.70" height="2.00" fill="#0a0a0a"/>
<text transform="translate(86.00 1608.90) scale(1.1720 1.0000)" font-size="20.00" text-anchor="end" fill="#242424">0</text>
<rect x="149.90" y="1602.20" width="2.30" height="9.30" fill="#0a0a0a"/>
<text transform="translate(157.15 1620.40) scale(1.1940 1.0000) rotate(-70.00)" font-size="19.70" text-anchor="end" fill="#242424">TGF-beta signaling pathway</text>
<rect x="244.65" y="1602.20" width="2.30" height="9.30" fill="#0a0a0a"/>
<text transform="translate(251.90 1620.40) scale(1.1940 1.0000) rotate(-70.00)" font-size="19.70" text-anchor="end" fill="#242424">Adherens junction</text>
<rect x="339.40" y="1602.20" width="2.30" height="9.30" fill="#0a0a0a"/>
<text transform="translate(346.65 1620.40) scale(1.1940 1.0000) rotate(-70.00)" font-size="19.70" text-anchor="end" fill="#242424">Hippo signaling pathway</text>
<rect x="434.15" y="1602.20" width="2.30" height="9.30" fill="#0a0a0a"/>
<text transform="translate(441.40 1620.40) scale(1.1940 1.0000) rotate(-70.00)" font-size="19.70" text-anchor="end" fill="#242424">Synaptic vesicle cycle</text>
<rect x="528.90" y="1602.20" width="2.30" height="9.30" fill="#0a0a0a"/>
<text transform="translate(536.15 1620.40) scale(1.1940 1.0000) rotate(-70.00)" font-size="19.70" text-anchor="end" fill="#242424">MAPK signaling pathway</text>
<rect x="623.65" y="1602.20" width="2.30" height="9.30" fill="#0a0a0a"/>
<text transform="translate(630.90 1620.40) scale(1.1940 1.0000) rotate(-70.00)" font-size="19.70" text-anchor="end" fill="#242424">Morphine addiction</text>
<rect x="718.40" y="1602.20" width="2.30" height="9.30" fill="#0a0a0a"/>
<text transform="translate(725.65 1620.40) scale(1.1940 1.0000) rotate(-70.00)" font-size="19.70" text-anchor="end" fill="#242424">SNARE interactions in vesicular transport</text>
<rect x="813.15" y="1602.20" width="2.30" height="9.30" fill="#0a0a0a"/>
<text transform="translate(820.40 1620.40) scale(1.1940 1.0000) rotate(-70.00)" font-size="19.70" text-anchor="end" fill="#242424">Purine metabolism</text>
<rect x="907.90" y="1602.20" width="2.30" height="9.30" fill="#0a0a0a"/>
<text transform="translate(915.15 1620.40) scale(1.1940 1.0000) rotate(-70.00)" font-size="19.70" text-anchor="end" fill="#242424">FoxO signaling pathway</text>
<rect x="1002.65" y="1602.20" width="2.30" height="9.30" fill="#0a0a0a"/>
<text transform="translate(1009.90 1620.40) scale(1.1940 1.0000) rotate(-70.00)" font-size="19.70" text-anchor="end" fill="#242424">Endocytosis</text>
<rect x="1097.40" y="1602.20" width="2.30" height="9.30" fill="#0a0a0a"/>
<text transform="translate(1104.65 1620.40) scale(1.1940 1.0000) rotate(-70.00)" font-size="19.70" text-anchor="end" fill="#242424">Spinocerebellar ataxia</text>
<rect x="1192.15" y="1602.20" width="2.30" height="9.30" fill="#0a0a0a"/>
<text transform="translate(1199.40 1620.40) scale(1.1940 1.0000) rotate(-70.00)" font-size="19.70" text-anchor="end" fill="#242424">Long-term depression</text>
<rect x="1286.90" y="1602.20" width="2.30" height="9.30" fill="#0a0a0a"/>
<text transform="translate(1294.15 1620.40) scale(1.1940 1.0000) rotate(-70.00)" font-size="19.70" text-anchor="end" fill="#242424">Axon regeneration</text>
<rect x="1381.65" y="1602.20" width="2.30" height="9.30" fill="#0a0a0a"/>
<text transform="translate(1388.90 1620.40) scale(1.1940 1.0000) rotate(-70.00)" font-size="19.70" text-anchor="end" fill="#242424">Notch signaling pathway</text>
<rect x="1476.40" y="1602.20" width="2.30" height="9.30" fill="#0a0a0a"/>
<text transform="translate(1483.65 1620.40) scale(1.1940 1.0000) rotate(-70.00)" font-size="19.70" text-anchor="end" fill="#242424">Gastric cancer</text>
<rect x="1571.15" y="1602.20" width="2.30" height="9.30" fill="#0a0a0a"/>
<text transform="translate(1578.40 1620.40) scale(1.1940 1.0000) rotate(-70.00)" font-size="19.70" text-anchor="end" fill="#242424">Circadian rhythm</text>
<text transform="translate(24.50 1356.30) scale(1.2000 1.0000) rotate(-90.00)" font-size="22.80" text-anchor="middle" fill="#242424">Enrichment ratio</text>
<text transform="translate(861.50 1967.40) scale(1.1540 1.0000)" font-size="23.70" text-anchor="middle" fill="#242424">KEGG pathway</text>
<defs><linearGradient id="g2" x1="0" y1="1" x2="0" y2="0"><stop offset="0" stop-color="#fc0a0e"/><stop offset="1" stop-color="#3600f4"/></linearGradient></defs>
<rect x="1678.20" y="1137.10" width="39.80" height="164.30" fill="url(#g2)"/>
<rect x="1718.00" y="1301.20" width="5.70" height="1.40" fill="#555555"/>
<text transform="translate(1729.20 1307.60) scale(1.1750 1.0000)" font-size="18.30" text-anchor="start" fill="#242424">0</text>
<rect x="1718.00" y="1268.40" width="5.70" height="1.40" fill="#555555"/>
<text transform="translate(1729.20 1274.80) scale(1.1750 1.0000)" font-size="18.30" text-anchor="start" fill="#242424">0.01</text>
<rect x="1718.00" y="1235.60" width="5.70" height="1.40" fill="#555555"/>
<text transform="translate(1729.20 1242.00) scale(1.1750 1.0000)" font-size="18.30" text-anchor="start" fill="#242424">0.02</text>
<rect x="1718.00" y="1202.80" width="5.70" height="1.40" fill="#555555"/>
<text transform="translate(1729.20 1209.20) scale(1.1750 1.0000)" font-size="18.30" text-anchor="start" fill="#242424">0.03</text>
<rect x="1718.00" y="1170.00" width="5.70" height="1.40" fill="#555555"/>
<text transform="translate(1729.20 1176.40) scale(1.1750 1.0000)" font-size="18.30" text-anchor="start" fill="#242424">0.04</text>
<rect x="1718.00" y="1137.20" width="5.70" height="1.40" fill="#555555"/>
<text transform="translate(1729.20 1143.60) scale(1.1750 1.0000)" font-size="18.30" text-anchor="start" fill="#242424">0.05</text>
<text transform="translate(1668.50 1112.60) scale(1.1400 1.0000)" font-size="20.57" text-anchor="start" fill="#242424">Pvalue</text>
</g>
</svg>
</body>
</html>
